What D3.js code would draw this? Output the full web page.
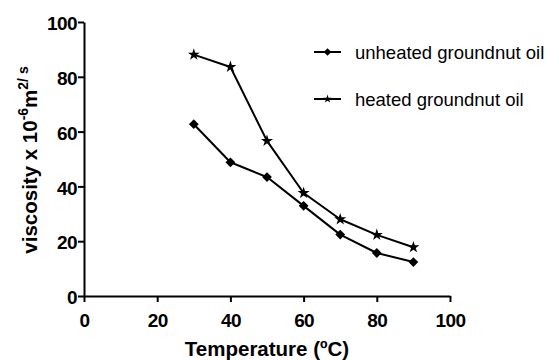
<!DOCTYPE html>
<html>
  <head>
    <meta charset="utf-8">
    <style type="text/css">
      body { margin: 0; background: #fff; }
      text { font-family: "Liberation Sans", Arial, sans-serif; fill: #000; }
      .axis path, .axis line { stroke: #000; stroke-width: 2px; }
      .axis text { font-weight: bold; font-size: 19px; letter-spacing: -0.6px; }
      .series { fill: none; stroke: #000; stroke-width: 2px; stroke-linejoin: round; }
    </style>
  </head>
  <body>
    <script src="https://d3js.org/d3.v7.min.js"></script>
    <script>
      // values
      var temps = [30, 40, 50, 60, 70, 80, 90];
      var unheated = [62.7, 48.8, 43.4, 32.9, 22.4, 15.7, 12.4];
      var heated = [88.1, 83.6, 56.6, 37.6, 28.0, 22.3, 17.8];
      var seriesNames = ["unheated groundnut oil", "heated groundnut oil"];
      var xTicks = [0, 20, 40, 60, 80, 100];
      var yTicks = [0, 20, 40, 60, 80, 100];

      var width = 559;
      var height = 360;

      var svg = d3.select("body")
                  .append("svg")
                  .attr("width", width)
                  .attr("height", height);

      var x = d3.scaleLinear().domain([0, 100]).range([84, 450]);
      var y = d3.scaleLinear().domain([0, 100]).range([296, 22]);

      svg.append("g")
        .attr("class", "axis")
        .attr("transform", "translate(0," + y(0) + ")")
        .call(d3.axisBottom(x).tickValues(xTicks).tickSize(6).tickSizeOuter(0).tickPadding(3))
        .selectAll("text").attr("y", 31).attr("dy", null);

      svg.append("g")
        .attr("class", "axis")
        .attr("transform", "translate(" + x(0) + ",0)")
        .call(d3.axisLeft(y).tickValues(yTicks).tickSize(6).tickSizeOuter(0).tickPadding(2))
        .selectAll("text").attr("x", -7).attr("dy", "0.4em");

      svg.selectAll(".axis .domain").attr("stroke-width", 2.5);

      var line = d3.line()
          .x(function(d, i) { return x(temps[i]); })
          .y(function(d) { return y(d); });

      var diamond = d3.symbol().type(d3.symbolSquare).size(48);
      var star = d3.symbol().type(d3.symbolStar).size(45);

      var sets = [
        { name: seriesNames[0], values: unheated, sym: diamond, rot: 45 },
        { name: seriesNames[1], values: heated, sym: star, rot: 0 }
      ];

      sets.forEach(function(s, k) {
        svg.append("path")
          .datum(s.values)
          .attr("class", "series")
          .attr("d", line);

        svg.append("g")
          .selectAll("path")
          .data(s.values)
        .enter()
          .append("path")
          .attr("transform", function(d, i) {
            return "translate(" + x(temps[i]) + "," + y(d) + ") rotate(" + s.rot + ")";
          })
          .attr("d", s.sym)
          .attr("fill", "#000");

        // legend
        var ly = 52 + k * 47;
        var lg = svg.append("g").attr("transform", "translate(0," + ly + ")");
        lg.append("line")
          .attr("x1", 314).attr("x2", 341)
          .attr("stroke", "#000").attr("stroke-width", 2);
        lg.append("path")
          .attr("transform", "translate(327.5,0) rotate(" + s.rot + ")")
          .attr("d", k === 0 ? d3.symbol().type(d3.symbolSquare).size(30) : d3.symbol().type(d3.symbolStar).size(22))
          .attr("fill", "#000");
        lg.append("text")
          .attr("x", 355)
          .attr("y", 7)
          .style("font-size", "18.5px")
          .text(s.name);
      });

      // axis titles
      svg.append("text")
        .attr("x", (x(0) + x(100)) / 2)
        .attr("y", 356)
        .attr("text-anchor", "middle")
        .style("font-weight", "bold")
        .style("font-size", "20.5px")
        .text("Temperature (ºC)");

      var yt = svg.append("text")
        .attr("transform", "translate(37,160) rotate(-90)")
        .attr("text-anchor", "middle")
        .style("font-weight", "bold")
        .style("font-size", "20.5px");
      yt.append("tspan").text("viscosity x 10");
      yt.append("tspan").attr("dy", -9).style("font-size", "14px").text("-6");
      yt.append("tspan").attr("dy", 9).text("m");
      yt.append("tspan").attr("dy", -9).style("font-size", "14px").text("2/ s");
    </script>
  </body>
</html>
